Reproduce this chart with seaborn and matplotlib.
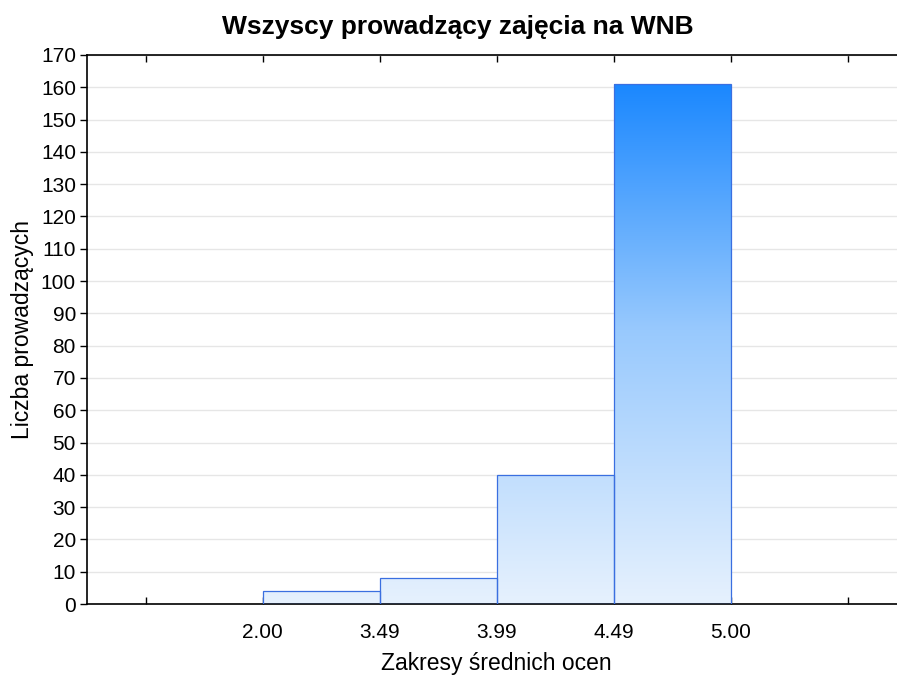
import numpy as np
import pandas as pd
import matplotlib
matplotlib.use("Agg")
import matplotlib.pyplot as plt
from matplotlib.colors import LinearSegmentedColormap
import seaborn as sns

# Data
bin_positions = [1.5, 2.5, 3.5, 4.5]
counts = [4, 8, 40, 161]
tick_labels = ["", "2.00", "3.49", "3.99", "4.49", "5.00", ""]

df = pd.DataFrame({"pos": bin_positions, "count": counts})

sns.set_style("white")
plt.rcParams["font.family"] = ["Liberation Sans", "DejaVu Sans"]
plt.rcParams["text.color"] = "black"
plt.rcParams["axes.labelcolor"] = "black"
plt.rcParams["xtick.color"] = "black"
plt.rcParams["ytick.color"] = "black"

fig = plt.figure(figsize=(8.97, 6.75), dpi=100)
ax = fig.add_axes([87 / 897, 71 / 675, 819 / 897, 549 / 675])

sns.barplot(data=df, x="pos", y="count", native_scale=True, width=1,
            color="#cfe4fb", edgecolor="#3a6fe0", linewidth=0.9, ax=ax, zorder=2)

ax.set_xlim(-0.5, 6.5)
ax.set_ylim(0, 170)

# Vertical gradient fill clipped to each bar
cmap = LinearSegmentedColormap.from_list("grad", ["#e6f1fe", "#98c9fd", "#0c80ff"])
grad = np.linspace(0, 1, 256).reshape(-1, 1)
for patch in list(ax.patches):
    x0 = patch.get_x()
    w = patch.get_width()
    im = ax.imshow(grad, cmap=cmap, origin="lower", aspect="auto",
                   extent=[x0, x0 + w, 0, 170], zorder=2.5)
    im.set_clip_path(patch)
    patch.set_facecolor("none")
    patch.set_zorder(3)

ax.set_xticks(range(7))
ax.set_xticklabels(tick_labels, fontsize=15)
ax.set_yticks(range(0, 171, 10))
ax.tick_params(axis="y", labelsize=15, direction="out", length=5, width=1, left=True, pad=3)
ax.tick_params(axis="x", direction="in", length=5, width=1, bottom=True, top=True, pad=14)

ax.yaxis.grid(True, color="#e6e6e6", linewidth=1, zorder=0)
ax.set_axisbelow(True)
for s in ax.spines.values():
    s.set_color("black")
    s.set_linewidth(1.2)

ax.set_xlabel("Zakresy średnich ocen", fontsize=16.5, labelpad=7)
ax.set_ylabel("Liczba prowadzących", fontsize=16.5)
ax.yaxis.set_label_coords(-53 / 819, 0.5)
fig.text(458 / 897, 1 - 27 / 675, "Wszyscy prowadzący zajęcia na WNB",
         ha="center", va="center", fontsize=19, fontweight="bold")

fig.savefig("out.png", dpi=100)
